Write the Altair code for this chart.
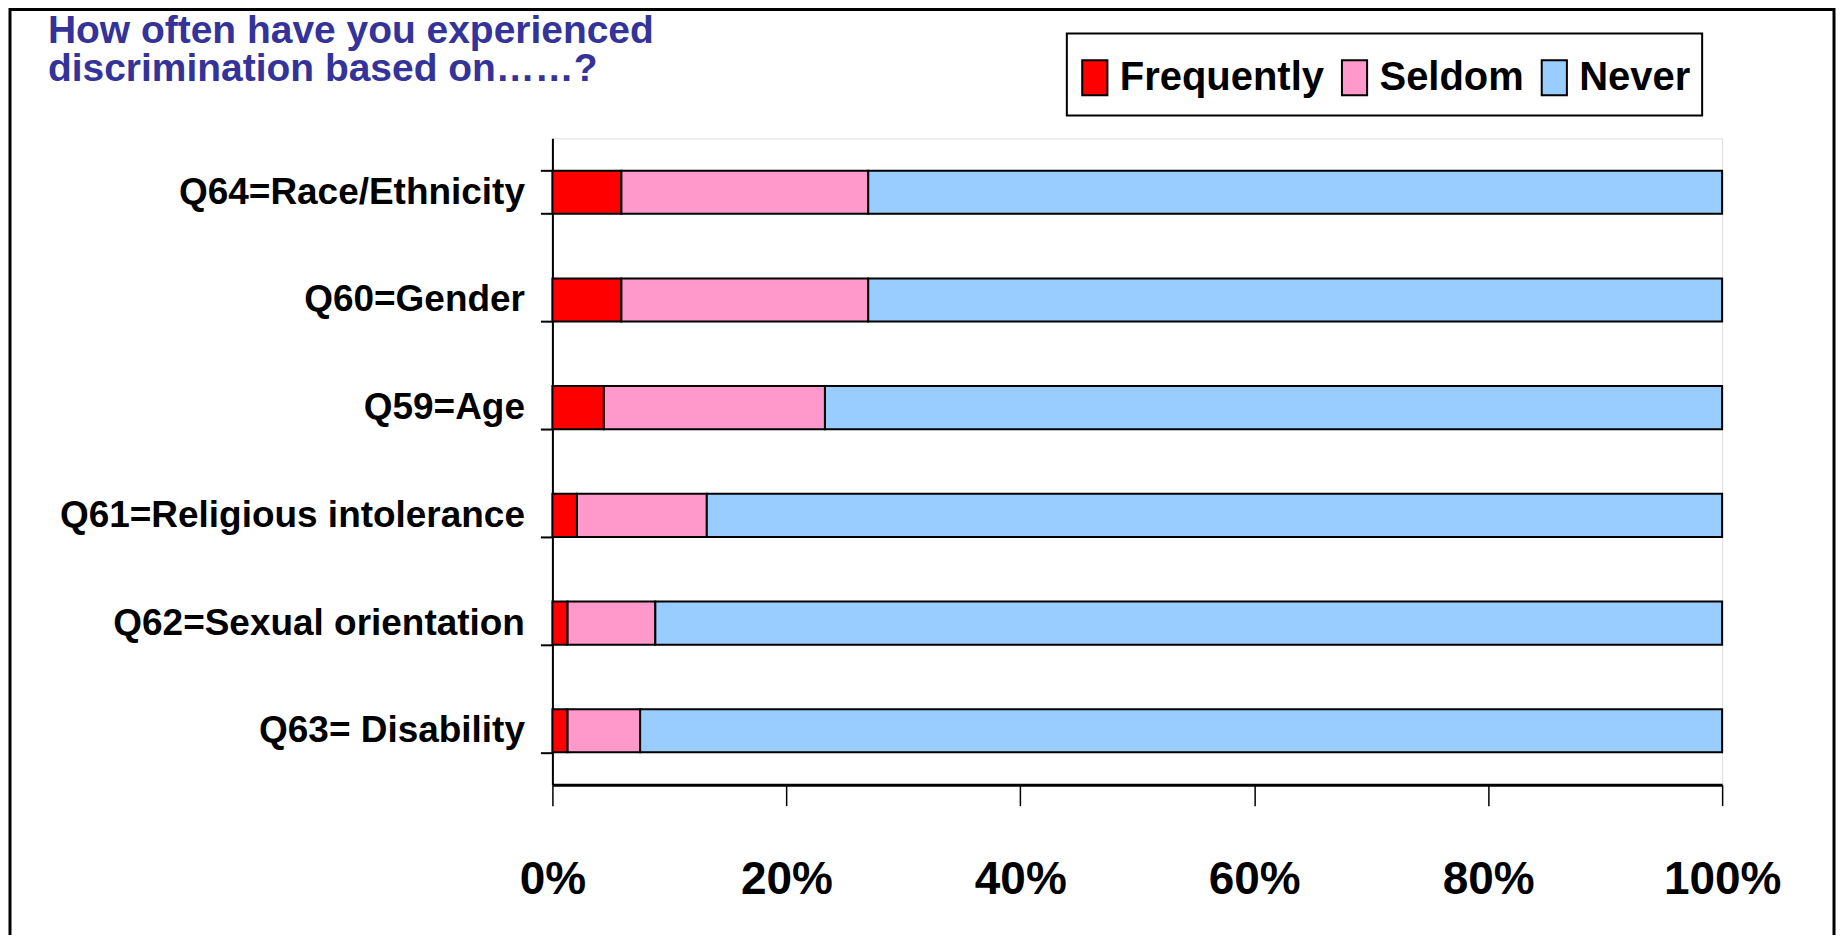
import altair as alt
import pandas as pd

categories = ["Q64=Race/Ethnicity", "Q60=Gender", "Q59=Age",
              "Q61=Religious intolerance", "Q62=Sexual orientation", "Q63= Disability"]
frequently = [5.9, 5.9, 4.4, 2.1, 1.3, 1.3]
seldom = [21.1, 21.1, 18.9, 11.1, 7.5, 6.2]
never = [73.0, 73.0, 76.7, 86.8, 91.2, 92.5]
series = ["Frequently", "Seldom", "Never"]
colors = ["#FF0000", "#FF99CC", "#99CCFF"]
x_ticks = [0, 0.2, 0.4, 0.6, 0.8, 1.0]
title_lines = ["How often have you experienced", "discrimination based on……?"]

rows = []
for i, c in enumerate(categories):
    for j, (s, v) in enumerate(zip(series, [frequently[i], seldom[i], never[i]])):
        rows.append({"cat": c, "series": s, "value": v, "order": j})
df = pd.DataFrame(rows)

W, H = 1171, 647
FONT = "Liberation Sans, Arial, sans-serif"

bars = alt.Chart(df).mark_bar(stroke="black", strokeWidth=2).encode(
    x=alt.X("value:Q", stack="normalize",
            scale=alt.Scale(domain=[0, 1], nice=False),
            axis=alt.Axis(values=x_ticks, format=".0%", title=None, grid=False,
                          domainColor="black", domainWidth=3,
                          tickColor="black", tickWidth=1.5, tickSize=21,
                          labelFont=FONT, labelFontSize=46,
                          labelFontWeight="bold", labelColor="black",
                          labelBaseline="middle",
                          labelPadding=74, labelFlush=False)),
    y=alt.Y("cat:N", sort=categories,
            scale=alt.Scale(paddingInner=0.6, paddingOuter=0.3),
            axis=alt.Axis(title=None, domainColor="black", domainWidth=2,
                          tickColor="black", tickWidth=2, tickSize=12,
                          tickBand="extent",
                          labelFont=FONT, labelFontSize=37,
                          labelFontWeight="bold", labelColor="black",
                          labelPadding=16, labelLimit=0)),
    color=alt.Color("series:N", scale=alt.Scale(domain=series, range=colors),
                    legend=alt.Legend(title=None, orient="none", direction="horizontal",
                                      legendX=515, legendY=-89,
                                      padding=8, columnPadding=10,
                                      symbolType="M-0.72,-1H0.72V1H-0.72Z",
                                      symbolSize=1225, symbolStrokeColor="black",
                                      symbolStrokeWidth=2, symbolOpacity=1,
                                      labelFont=FONT, labelFontSize=40,
                                      labelFontWeight="bold", labelColor="black",
                                      labelOffset=5, labelLimit=0)),
    order=alt.Order("order:Q"),
)

frame = alt.Chart(pd.DataFrame({"k": [0]})).mark_rect(
    fillOpacity=0, stroke="black", strokeWidth=3
).encode(x=alt.value(-543), x2=alt.value(1283), y=alt.value(-129), y2=alt.value(840))

legend_box = alt.Chart(pd.DataFrame({"k": [0]})).mark_rect(
    fill="white", stroke="black", strokeWidth=2
).encode(x=alt.value(515), x2=alt.value(1151), y=alt.value(-105), y2=alt.value(-23))

title = alt.Chart(pd.DataFrame({"t": [title_lines]})).mark_text(
    align="left", baseline="alphabetic", font=FONT, fontSize=39,
    fontWeight="bold", color="#333399", lineHeight=38
).encode(text="t:N", x=alt.value(-505), y=alt.value(-95))

chart = alt.layer(frame, legend_box, bars, title).properties(
    width=W, height=H,
    autosize=alt.AutoSizeParams(type="none"),
    padding={"left": 545, "top": 130, "right": 115, "bottom": 150},
).configure_view(stroke="black", strokeWidth=1.5).configure(background="white")

chart.save("out.html", embed_options={"renderer": "svg", "actions": False})
